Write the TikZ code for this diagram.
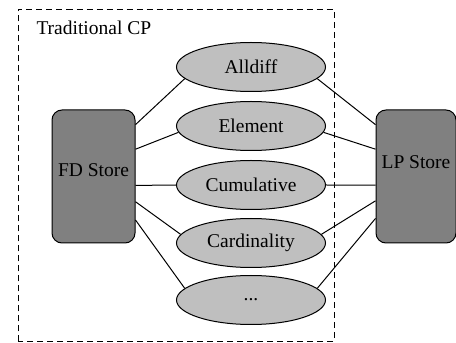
\documentclass[tikz,border=0pt]{standalone}
\usepackage{fontspec}
\setmainfont{Liberation Serif}
\usetikzlibrary{shapes.geometric}

\begin{document}
\begin{tikzpicture}[x=0.5pt, y=0.5pt, line width=0.5pt,
    every node/.style={font=\fontsize{9.75}{11.7}\selectfont},
    store/.style={draw, fill=gray, rounded corners=5pt, minimum width=41.5pt, minimum height=66.5pt, inner sep=0pt},
    constraint/.style={draw, ellipse, fill=lightgray, minimum width=74.5pt, minimum height=24.5pt, inner sep=0pt}]
  \useasboundingbox (0,0) rectangle (456,343);

  % solver boundary
  \draw[dash pattern=on 3pt off 2pt] (18,1.5) rectangle (334,333);
  \node[anchor=west, inner sep=0pt] (title) at (36,315) {Traditional CP};

  % the two stores
  \node[store, label={[name=fdtext, yshift=3pt]center:FD Store}] (fd) at (93.5,166.5) {};
  \node[store, minimum width=40pt, label={[name=lptext, yshift=7pt]center:LP Store}] (lp) at (416,166.5) {};

  % global constraints
  \node[constraint] (alldiff) at (251,276) {Alldiff};
  \node[constraint] (element) at (251,217) {Element};
  \node[constraint] (cumulative) at (251,158) {Cumulative};
  \node[constraint] (cardinality) at (251,100) {Cardinality};
  \node[constraint] (more) at (251,43) {...};

  \draw (fd.51) -- (alldiff.190);
  \draw (fd.33) -- (element.185);
  \draw (fd.-12) -- (cumulative.180);
  \draw (fd.-31) -- (cardinality.173);
  \draw (fd.-46) -- (more.170);

  \draw (lp.128) -- (alldiff.350);
  \draw (lp.146.5) -- (element.355);
  \draw (lp.192) -- (cumulative.0);
  \draw (lp.211.5) -- (cardinality.7);
  \draw (lp.226.7) -- (more.10);
\end{tikzpicture}
\end{document}
